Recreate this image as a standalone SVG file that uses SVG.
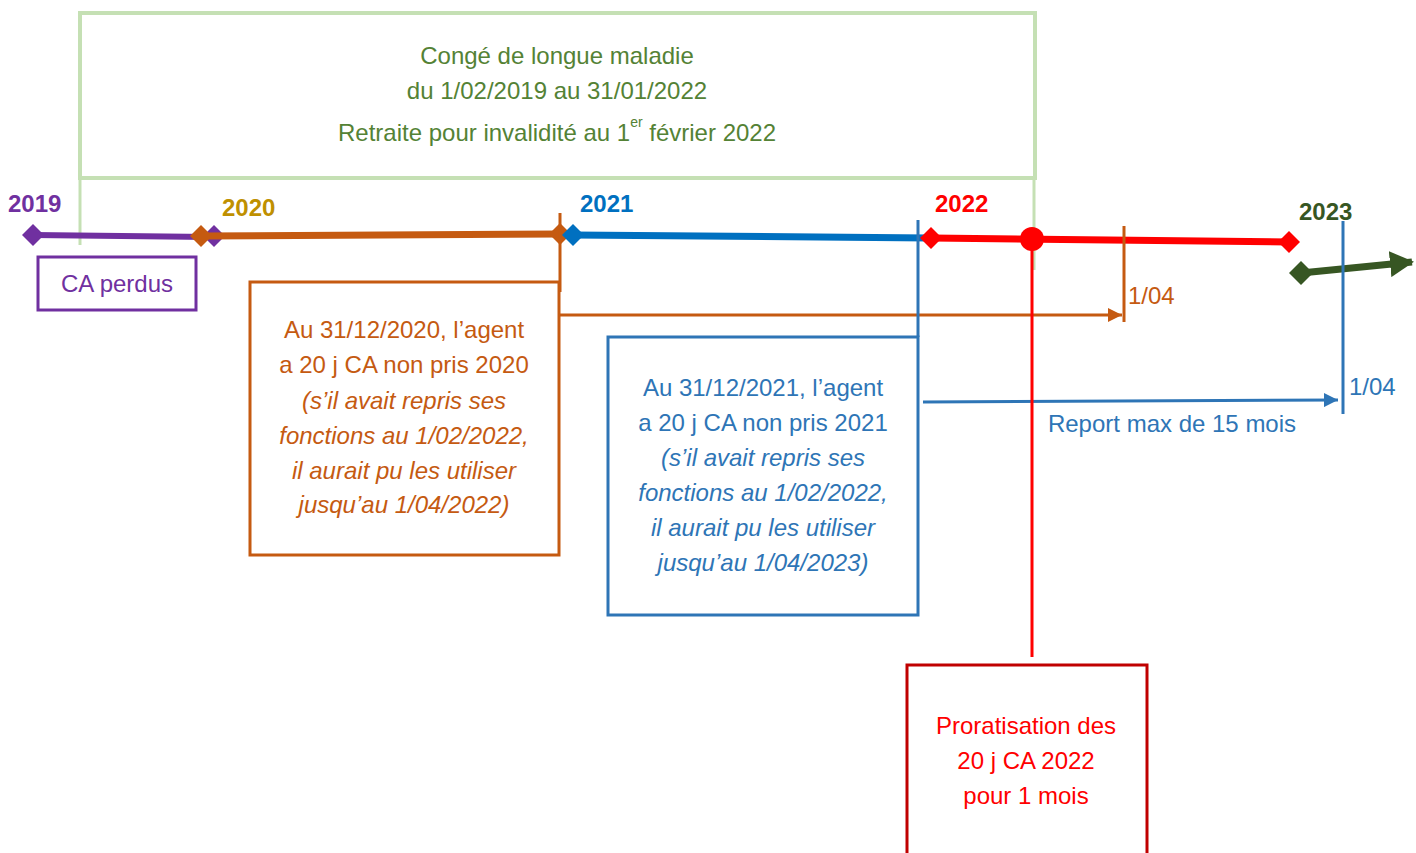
<svg xmlns="http://www.w3.org/2000/svg" width="1416" height="853" viewBox="0 0 1416 853">
<style>
text{font-family:"Liberation Sans",Arial,sans-serif;font-size:24px;text-anchor:middle}
.yr{font-weight:bold;text-anchor:start}
.it{font-style:italic}
.g{fill:#548235}.o{fill:#c55a11}.b{fill:#2e75b6}.r{fill:#ff0000}.p{fill:#7030a0}
</style>
<defs>
<marker id="ao" markerWidth="14" markerHeight="14" refX="14" refY="7" orient="auto" markerUnits="userSpaceOnUse"><path d="M0,0 L14,7 L0,14 z" fill="#c55a11"/></marker>
<marker id="ab" markerWidth="14" markerHeight="14" refX="14" refY="7" orient="auto" markerUnits="userSpaceOnUse"><path d="M0,0 L14,7 L0,14 z" fill="#2e75b6"/></marker>
<marker id="ag" markerWidth="24" markerHeight="26" refX="22" refY="13" orient="auto" markerUnits="userSpaceOnUse"><path d="M0,0 L24,13 L0,26 z" fill="#375623"/></marker>
</defs>

<g id="conge">
<rect x="80" y="13" width="955" height="165" fill="none" stroke="#c5e0b4" stroke-width="4"/>
<line x1="80" y1="178" x2="80" y2="245" stroke="#c5e0b4" stroke-width="3"/>
<line x1="1034" y1="178" x2="1034" y2="270" stroke="#c5e0b4" stroke-width="3"/>
<text class="g" x="557" y="64">Congé de longue maladie</text>
<text class="g" x="557" y="99">du 1/02/2019 au 31/01/2022</text>
<text class="g" x="557" y="141">Retraite pour invalidité au 1<tspan font-size="14" dy="-14">er</tspan><tspan dy="14"> février 2022</tspan></text>
</g>

<g id="years">
<text class="yr p" x="8" y="212">2019</text>
<text class="yr" x="222" y="216" fill="#bf9000">2020</text>
<text class="yr" x="580" y="212" fill="#0070c0">2021</text>
<text class="yr r" x="935" y="212">2022</text>
<text class="yr" x="1299" y="220" fill="#375623">2023</text>
</g>

<g id="connectors">
<line x1="33" y1="235" x2="210" y2="237" stroke="#7030a0" stroke-width="6"/>
<path d="M214,225 L225,236 L214,247 L203,236 z" fill="#7030a0"/>
<line x1="201" y1="236" x2="560" y2="234" stroke="#c55a11" stroke-width="7"/>
<line x1="573" y1="235" x2="930" y2="238" stroke="#0070c0" stroke-width="7"/>
<line x1="931" y1="238" x2="1289" y2="242" stroke="#ff0000" stroke-width="7"/>
<line x1="1301" y1="273" x2="1412" y2="262" stroke="#375623" stroke-width="7" marker-end="url(#ag)"/>
<path d="M33,224 L44,235 L33,246 L22,235 z" fill="#7030a0"/>
<path d="M201,225 L212,236 L201,247 L190,236 z" fill="#c55a11"/>
<path d="M560,223 L571,234 L560,245 L549,234 z" fill="#c55a11"/>
<path d="M573,224 L584,235 L573,246 L562,235 z" fill="#0070c0"/>
<path d="M931,227 L942,238 L931,249 L920,238 z" fill="#ff0000"/>
<path d="M1289,231 L1300,242 L1289,253 L1278,242 z" fill="#ff0000"/>
<path d="M1301,261 L1313,273 L1301,285 L1289,273 z" fill="#375623"/>
<circle cx="1032" cy="239" r="12" fill="#ff0000"/>
<line x1="560" y1="213" x2="560" y2="292" stroke="#c55a11" stroke-width="3"/>
<line x1="559" y1="315" x2="1122" y2="315" stroke="#c55a11" stroke-width="3" marker-end="url(#ao)"/>
<line x1="1124" y1="226" x2="1124" y2="322" stroke="#c55a11" stroke-width="3"/>
<line x1="918" y1="220" x2="918" y2="337" stroke="#2e75b6" stroke-width="3"/>
<line x1="923" y1="402" x2="1338" y2="400" stroke="#2e75b6" stroke-width="3" marker-end="url(#ab)"/>
<line x1="1343" y1="221" x2="1343" y2="414" stroke="#2e75b6" stroke-width="3"/>
<line x1="1032" y1="240" x2="1032" y2="657" stroke="#ff0000" stroke-width="3"/>
<text class="o" x="1128" y="304" style="text-anchor:start">1/04</text>
<text class="b" x="1349" y="395" style="text-anchor:start">1/04</text>
<text class="b" x="1172" y="432">Report max de 15 mois</text>
</g>

<g id="ca-perdus">
<rect x="38" y="257" width="158" height="53" fill="none" stroke="#7030a0" stroke-width="3"/>
<text class="p" x="117" y="292">CA perdus</text>
</g>

<g id="box-2020">
<rect x="250" y="282" width="309" height="273" fill="none" stroke="#c55a11" stroke-width="3"/>
<text class="o" x="404" y="338">Au 31/12/2020, l’agent</text>
<text class="o" x="404" y="373">a 20 j CA non pris 2020</text>
<text class="o it" x="404" y="409">(s’il avait repris ses</text>
<text class="o it" x="404" y="444">fonctions au 1/02/2022,</text>
<text class="o it" x="404" y="479">il aurait pu les utiliser</text>
<text class="o it" x="404" y="513">jusqu’au 1/04/2022)</text>
</g>

<g id="box-2021">
<rect x="608" y="337" width="310" height="278" fill="none" stroke="#2e75b6" stroke-width="3"/>
<text class="b" x="763" y="396">Au 31/12/2021, l’agent</text>
<text class="b" x="763" y="431">a 20 j CA non pris 2021</text>
<text class="b it" x="763" y="466">(s’il avait repris ses</text>
<text class="b it" x="763" y="501">fonctions au 1/02/2022,</text>
<text class="b it" x="763" y="536">il aurait pu les utiliser</text>
<text class="b it" x="763" y="571">jusqu’au 1/04/2023)</text>
</g>

<g id="box-2022">
<rect x="907" y="665" width="240" height="210" fill="none" stroke="#c00000" stroke-width="3"/>
<text class="r" x="1026" y="734">Proratisation des</text>
<text class="r" x="1026" y="769">20 j CA 2022</text>
<text class="r" x="1026" y="804">pour 1 mois</text>
</g>
</svg>
